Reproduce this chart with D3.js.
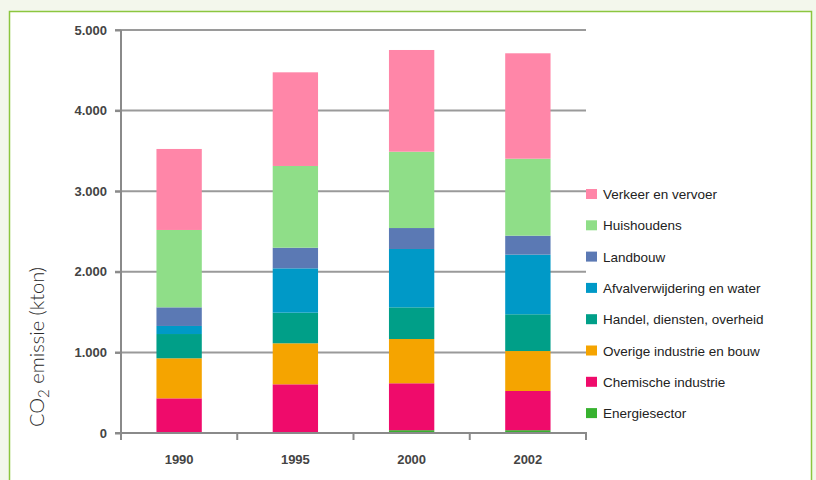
<!DOCTYPE html>
<html>
<head>
<meta charset="utf-8">
<script src="https://cdn.jsdelivr.net/npm/d3@7/dist/d3.min.js"></script>
<style>
  html, body { margin: 0; padding: 0; background: #f3f7ec; }
  svg { display: block; }
</style>
</head>
<body>
<svg id="chart" width="816" height="480"></svg>
<script>
// CO2-emissie per sector (kton)
const years = ["1990", "1995", "2000", "2002"];
const sectors = [
  "Energiesector",
  "Chemische industrie",
  "Overige industrie en bouw",
  "Handel, diensten, overheid",
  "Afvalverwijdering en water",
  "Landbouw",
  "Huishoudens",
  "Verkeer en vervoer"
];
const energiesector    = [0, 0, 35, 35];
const chemische        = [430, 604, 582, 486];
const overigeIndustrie = [497, 509, 549, 496];
const handelDiensten   = [301, 380, 393, 456];
const afvalWater       = [100, 550, 724, 740];
const landbouw         = [231, 256, 260, 235];
const huishoudens      = [960, 1014, 947, 955];
const verkeer          = [1005, 1162, 1262, 1308];
const yTicks = [0, 1000, 2000, 3000, 4000, 5000];

const seriesValues = [energiesector, chemische, overigeIndustrie, handelDiensten,
                      afvalWater, landbouw, huishoudens, verkeer];
const colors = ["#37b22f", "#ef0b6b", "#f5a400", "#009f88",
                "#0099c7", "#5b79b4", "#8fde88", "#ff86a8"];

const rows = years.map((yr, i) => {
  const r = { year: yr };
  sectors.forEach((s, k) => { r[s] = seriesValues[k][i]; });
  return r;
});

const svg = d3.select("#chart");

// panel
svg.append("rect")
  .attr("x", 9.5).attr("y", 11.5)
  .attr("width", 802).attr("height", 480)
  .attr("fill", "#ffffff")
  .attr("stroke", "#8cc63f").attr("stroke-width", 1.5);

const plotLeft = 121, plotRight = 586, plotTop = 30, plotBottom = 433;

const x = d3.scaleBand().domain(years).range([plotLeft, plotRight])
  .paddingInner(0.61).paddingOuter(0.305);
const y = d3.scaleLinear().domain([0, 5000]).range([plotBottom, plotTop]);

const fmt = v => d3.format(",")(v).replace(/,/g, ".");

// gridlines
svg.append("g").selectAll("line").data(yTicks.filter(d => d > 0)).join("line")
  .attr("x1", plotLeft - 6).attr("x2", plotRight)
  .attr("y1", d => y(d)).attr("y2", d => y(d))
  .attr("stroke", "#9a9a9a").attr("stroke-width", 2);

// y axis
const yAxis = d3.axisLeft(y).tickValues(yTicks).tickFormat(fmt)
  .tickSizeInner(6).tickSizeOuter(0).tickPadding(8);
const gy = svg.append("g").attr("transform", `translate(${plotLeft},0)`).call(yAxis);
gy.select(".domain").remove();
gy.selectAll(".tick line").attr("stroke", "#8a8a8a").attr("stroke-width", 2);
gy.selectAll(".tick text")
  .attr("font-family", "Liberation Sans, Arial, sans-serif")
  .attr("font-size", 13).attr("font-weight", "bold").attr("fill", "#444");
svg.append("line")
  .attr("x1", plotLeft).attr("x2", plotLeft).attr("y1", plotTop).attr("y2", plotBottom + 7)
  .attr("stroke", "#8a8a8a").attr("stroke-width", 2);

// stacked bars
const stack = d3.stack().keys(sectors);
const layers = stack(rows);
svg.append("g").selectAll("g").data(layers).join("g")
  .attr("fill", (d, i) => colors[i])
  .selectAll("rect").data(d => d).join("rect")
    .attr("x", d => x(d.data.year))
    .attr("width", x.bandwidth())
    .attr("y", d => y(d[1]))
    .attr("height", d => y(d[0]) - y(d[1]));

// x axis
svg.append("line")
  .attr("x1", plotLeft - 6).attr("x2", plotRight + 1).attr("y1", plotBottom).attr("y2", plotBottom)
  .attr("stroke", "#8a8a8a").attr("stroke-width", 2);
const bounds = years.map(yr => x(yr) - x.step() * x.paddingInner() / 2).concat([plotRight]);
svg.append("g").selectAll("line").data(bounds).join("line")
  .attr("x1", d => d).attr("x2", d => d)
  .attr("y1", plotBottom).attr("y2", plotBottom + 7)
  .attr("stroke", "#8a8a8a").attr("stroke-width", 2);
svg.append("g").selectAll("text").data(years).join("text")
  .attr("x", d => x(d) + x.bandwidth() / 2)
  .attr("y", 464)
  .attr("text-anchor", "middle")
  .attr("font-family", "Liberation Sans, Arial, sans-serif")
  .attr("font-size", 13).attr("font-weight", "bold").attr("fill", "#444")
  .text(d => d);

// y axis title
const title = svg.append("text")
  .attr("transform", "translate(44,347) rotate(-90)")
  .attr("text-anchor", "middle")
  .attr("font-family", "Lato, 'Open Sans', sans-serif")
  .attr("font-weight", 300)
  .attr("font-size", 20).attr("fill", "#2a2a2a");
title.append("tspan").text("CO");
title.append("tspan").attr("dy", 5).attr("font-size", 15).text("2");
title.append("tspan").attr("dy", -5).text(" emissie (kton)");

// legend
const legendItems = sectors.map((s, i) => ({ name: s, color: colors[i] })).reverse();
const lg = svg.append("g").selectAll("g").data(legendItems).join("g")
  .attr("transform", (d, i) => `translate(586,${194 + i * 31.3})`);
lg.append("rect").attr("x", 0).attr("y", -5).attr("width", 11).attr("height", 10)
  .attr("fill", d => d.color);
lg.append("text").attr("x", 17).attr("y", 5)
  .attr("font-family", "Liberation Sans, Arial, sans-serif")
  .attr("font-size", 13.5).attr("fill", "#222")
  .text(d => d.name);
</script>
</body>
</html>
